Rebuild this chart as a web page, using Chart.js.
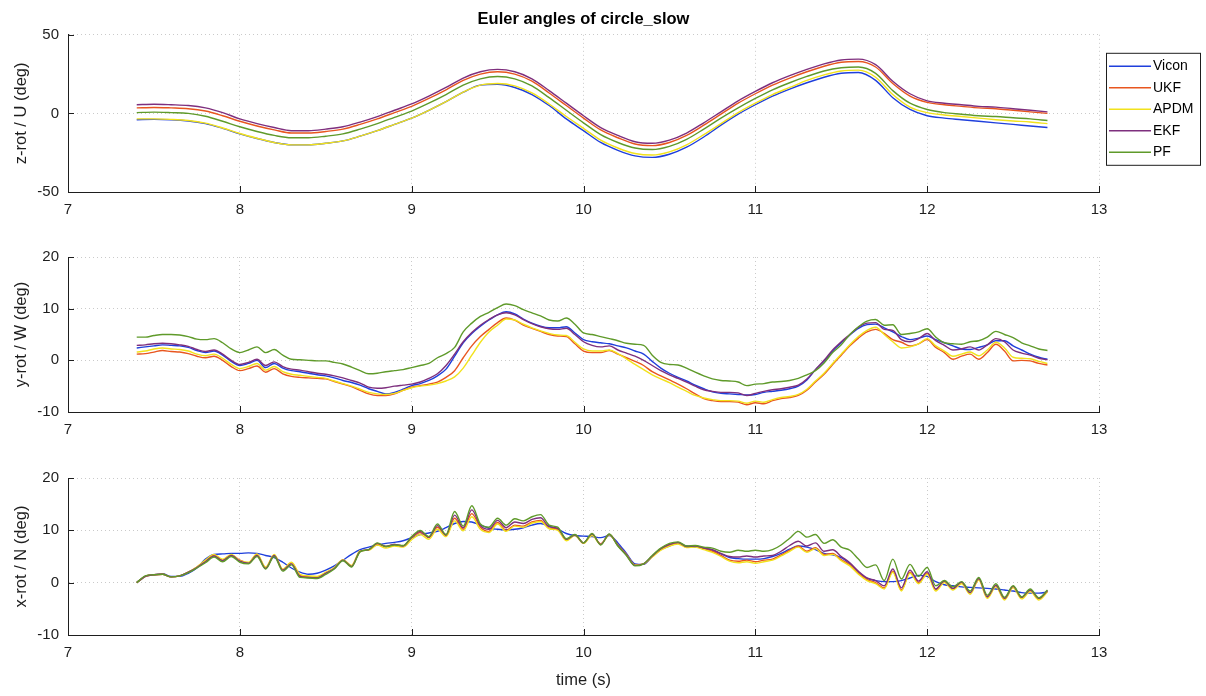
<!DOCTYPE html>
<html>
<head>
<meta charset="utf-8">
<title>Euler angles of circle_slow</title>
<script src="https://cdn.jsdelivr.net/npm/chart.js@4.4.1/dist/chart.umd.min.js"></script>
<style>
  html, body { margin: 0; padding: 0; background: #fff; }
  #wrap { position: relative; width: 1206px; height: 696px; background: #fff; }
  canvas { position: absolute; left: 0; }
</style>
</head>
<body>
<div id="wrap">
  <canvas id="zChart" width="1206" height="232" style="top:0"></canvas>
  <canvas id="yChart" width="1206" height="222" style="top:232px"></canvas>
  <canvas id="xChart" width="1206" height="242" style="top:454px"></canvas>
</div>
<script>
// series names and colours (Vicon reference + the four filters)
const names = ["Vicon", "UKF", "APDM", "EKF", "PF"];
const colors = ["#1f3fdc", "#e8561f", "#f2e21c", "#7e2f7e", "#5f9a2a"];

const timeTicks = [7, 8, 9, 10, 11, 12, 13];
const zTicks = [-50, 0, 50];
const yTicks = [-10, 0, 10, 20];
const xTicks = [-10, 0, 10, 20];

// z-rot sampled every 0.1 s
const tz = [7.4, 7.5, 7.6, 7.7, 7.8, 7.9, 8.0, 8.1, 8.2, 8.3,
  8.4, 8.5, 8.6, 8.7, 8.8, 8.9, 9.0, 9.1, 9.2, 9.3,
  9.4, 9.5, 9.6, 9.7, 9.8, 9.9, 10.0, 10.1, 10.2, 10.3,
  10.4, 10.5, 10.6, 10.7, 10.8, 10.9, 11.0, 11.1, 11.2, 11.3,
  11.4, 11.5, 11.6, 11.7, 11.8, 11.9, 12.0, 12.1, 12.2, 12.3,
  12.4, 12.5, 12.6, 12.7];

const zVicon = [-4, -3.8, -4, -4.8, -6.5, -9.5, -13, -16, -18.5, -20,
  -20, -19, -17.5, -14.5, -11, -7, -3, 2, 7.5, 13.5,
  18, 18.5, 16.5, 12, 5, -3.5, -11, -18.5, -23.5, -27,
  -28, -26, -21.5, -15, -7.5, -0.5, 5.5, 11, 15.5, 19.5,
  23, 25.5, 26, 21, 10, 2.5, -1.5, -3, -4, -5,
  -6, -7, -8, -9];
const zUKF = [3.5, 3.8, 3.5, 3, 1.5, -1.5, -5, -8, -10.5, -12.5,
  -12.5, -11.5, -10, -7, -3.5, 0.5, 4.5, 9.5, 15, 21,
  25, 26.5, 25, 20.5, 13, 5, -3, -10.5, -15.5, -19.5,
  -20.5, -18.5, -14, -7.5, -0.5, 6.5, 12.5, 18, 22.5, 26.5,
  30, 32.5, 33, 29.5, 19, 11, 7, 5.5, 4.5, 3.5,
  3, 2, 1, 0];
const zAPDM = [-3.5, -3.5, -3.8, -4.5, -6.2, -9.3, -12.8, -15.8, -18.5, -20,
  -20, -19, -17.5, -14.5, -11, -7, -3, 2, 7.5, 13.5,
  18, 19, 17.5, 13, 6, -2, -9.5, -17, -22, -25.5,
  -26.5, -24.5, -20, -13.5, -6.5, 0.5, 6.5, 12, 16.5, 21,
  24.5, 27, 27.5, 23, 12, 4, 0.5, -1, -2, -3,
  -4, -4.8, -5.5, -6.5];
const zEKF = [5.5, 5.8, 5.5, 5, 3.5, 0.5, -3.5, -6.5, -9, -11,
  -11, -10, -8.5, -5.5, -2, 2, 6, 11, 16.5, 22.5,
  26.5, 28, 26.5, 22, 14.5, 6.5, -1.5, -9, -14, -18,
  -19, -17, -12.5, -6, 1, 8, 14, 19.5, 24, 28,
  31.5, 34, 34.5, 31, 20.5, 12.5, 8, 6.5, 5.5, 4.5,
  4, 3, 2, 1];
const zPF = [0.5, 0.8, 0.5, 0, -1.8, -5, -8.5, -11.5, -14, -15.5,
  -15.5, -14.5, -13, -10, -6.5, -2.5, 1.5, 6.5, 12, 18,
  22, 23.5, 22, 17.5, 10, 2, -6, -13.5, -18.5, -22,
  -23, -21, -16.5, -10, -3, 3.5, 9.5, 15, 19.5, 23.5,
  27, 29, 29.5, 25.5, 14.5, 6.5, 2.5, 0.5, -0.5, -1.5,
  -2, -2.8, -3.5, -4.5];

// y-rot and x-rot sampled every 0.05 s
const t2 = [7.40, 7.45, 7.50, 7.55, 7.60, 7.65, 7.70, 7.75, 7.80, 7.85,
  7.90, 7.95, 8.00, 8.05, 8.10, 8.15, 8.20, 8.25, 8.30, 8.35,
  8.40, 8.45, 8.50, 8.55, 8.60, 8.65, 8.70, 8.75, 8.80, 8.85,
  8.90, 8.95, 9.00, 9.05, 9.10, 9.15, 9.20, 9.25, 9.30, 9.35,
  9.40, 9.45, 9.50, 9.55, 9.60, 9.65, 9.70, 9.75, 9.80, 9.85,
  9.90, 9.95, 10.00, 10.05, 10.10, 10.15, 10.20, 10.25, 10.30, 10.35,
  10.40, 10.45, 10.50, 10.55, 10.60, 10.65, 10.70, 10.75, 10.80, 10.85,
  10.90, 10.95, 11.00, 11.05, 11.10, 11.15, 11.20, 11.25, 11.30, 11.35,
  11.40, 11.45, 11.50, 11.55, 11.60, 11.65, 11.70, 11.75, 11.80, 11.85,
  11.90, 11.95, 12.00, 12.05, 12.10, 12.15, 12.20, 12.25, 12.30, 12.35,
  12.40, 12.45, 12.50, 12.55, 12.60, 12.65, 12.70];

const yVicon = [2.4, 2.6, 2.8, 3.0, 2.9, 2.8, 2.5, 1.9, 1.5, 1.8,
  1.0, -0.2, -1.0, -0.6, 0.0, -1.4, -0.6, -1.5, -2.0, -2.2,
  -2.5, -2.8, -3.0, -3.4, -3.9, -4.3, -4.8, -5.5, -6.0, -6.5,
  -6.2, -5.6, -4.9, -4.5, -3.9, -3.0, -1.7, 0.8, 3.4, 5.2,
  6.6, 7.8, 8.8, 9.4, 9.0, 8.0, 7.2, 6.6, 6.3, 6.3,
  6.5, 5.3, 4.0, 3.6, 3.4, 3.2, 2.8, 2.4, 1.8, 1.2,
  -0.2, -1.5, -2.5, -3.3, -4.0, -4.8, -5.5, -6.1, -6.4, -6.5,
  -6.6, -6.7, -6.6, -6.2, -6.0, -5.8, -5.5, -5.0, -3.8, -1.8,
  -0.2, 1.8, 3.4, 4.9, 6.2, 6.9, 7.0, 6.3, 5.5, 4.6,
  4.0, 4.3, 4.7, 4.0, 3.4, 2.8, 2.2, 2.1, 2.5, 3.0,
  3.8, 3.8, 2.8, 2.0, 1.2, 0.6, 0.2];
const yUKF = [1.2, 1.3, 1.6, 1.9, 1.7, 1.6, 1.3, 0.8, 0.5, 0.8,
  0.0, -1.2, -2.0, -1.6, -1.1, -2.3, -1.6, -2.6, -3.1, -3.3,
  -3.4, -3.5, -3.6, -4.1, -4.6, -5.1, -5.8, -6.5, -6.8, -6.8,
  -6.5, -5.8, -5.2, -4.9, -4.6, -4.2, -3.3, -2.0, 0.5, 2.8,
  4.6, 6.0, 7.3, 8.2, 7.8, 6.8, 6.2, 5.6, 5.0, 4.7,
  4.6, 3.2, 1.8, 1.5, 1.5, 1.9, 1.2, 0.5, -0.2, -1.0,
  -2.2, -3.0, -3.8, -4.6, -5.5, -6.5, -7.4, -7.8, -8.0, -8.0,
  -8.1, -8.6, -8.2, -8.4, -7.8, -7.4, -7.2, -6.8, -5.8, -4.2,
  -2.7, -0.8, 1.0, 2.8, 4.3, 5.5, 6.0, 5.2, 4.0, 3.5,
  2.8, 3.2, 4.0, 2.5, 1.5, 0.2, 0.8, 1.2, 0.2, 1.5,
  3.1, 1.8, -0.1, 0.0, -0.1, -0.6, -0.9];
const yAPDM = [1.6, 1.8, 2.2, 2.4, 2.2, 2.1, 1.8, 1.2, 0.9, 1.2,
  0.4, -0.8, -1.6, -1.2, -0.6, -1.9, -1.2, -2.2, -2.7, -2.9,
  -3.1, -3.3, -3.5, -4.0, -4.5, -5.0, -5.6, -6.2, -6.5, -6.6,
  -6.4, -5.8, -5.3, -5.0, -4.8, -4.5, -4.0, -3.2, -1.5, 1.0,
  3.5, 5.5, 6.8, 8.0, 7.8, 7.0, 6.3, 5.7, 5.2, 4.9,
  4.8, 3.5, 2.2, 1.8, 1.8, 2.0, 1.3, 0.3, -0.8, -1.8,
  -2.8, -3.6, -4.3, -5.2, -6.0, -6.8, -7.3, -7.6, -7.8, -7.8,
  -7.9, -8.3, -7.9, -8.1, -7.6, -7.2, -7.0, -6.6, -5.6, -4.0,
  -2.5, -0.6, 1.2, 3.0, 4.6, 5.8, 6.4, 5.0, 3.6, 2.4,
  2.6, 3.2, 4.2, 2.8, 1.8, 0.8, 1.2, 1.6, 0.9, 2.0,
  3.5, 2.4, 0.6, 0.4, 0.3, -0.2, -0.6];
const yEKF = [2.9, 3.0, 3.2, 3.3, 3.2, 3.0, 2.7, 2.1, 1.7, 2.0,
  1.2, 0.0, -0.8, -0.4, 0.2, -1.0, -0.3, -1.2, -1.7, -1.9,
  -2.2, -2.5, -2.7, -3.0, -3.4, -3.9, -4.4, -5.2, -5.4, -5.3,
  -5.0, -4.8, -4.6, -4.2, -3.5, -2.6, -1.0, 1.2, 3.6, 5.4,
  6.8, 7.9, 8.8, 9.2, 8.8, 7.9, 7.1, 6.5, 6.1, 6.0,
  6.2, 5.0, 3.6, 2.9, 2.6, 2.8, 2.0, 1.4, 0.8, 0.0,
  -1.0, -2.0, -2.8, -3.5, -4.2, -5.0, -5.7, -6.0, -6.2, -6.2,
  -6.3, -6.8, -6.4, -6.0, -5.7, -5.5, -5.2, -4.8, -3.6, -1.8,
  0.0, 2.0, 3.6, 5.0, 6.4, 7.2, 7.3, 6.0, 5.8, 4.0,
  3.6, 4.2, 5.2, 3.8, 2.9, 2.0, 2.2, 2.6, 2.0, 3.0,
  4.2, 3.6, 2.0, 1.4, 1.0, 0.4, 0.1];
const yPF = [4.5, 4.5, 4.8, 5.0, 5.0, 4.9, 4.6, 4.1, 4.0, 4.2,
  3.4, 2.2, 1.5, 2.0, 2.6, 1.5, 2.1, 1.0, 0.2, 0.1,
  0.0, -0.1, -0.1, -0.4, -0.7, -1.3, -2.0, -2.6, -2.5, -2.2,
  -2.0, -1.8, -1.4, -1.0, -0.6, 0.5, 1.3, 2.5, 5.5, 7.2,
  8.5, 9.3, 10.2, 10.9, 10.6, 9.8, 9.2, 8.6, 7.8, 7.6,
  8.2, 7.0, 5.3, 5.0, 4.6, 4.2, 3.8, 3.3, 3.1, 2.9,
  1.0, -0.4, -0.8, -0.9, -1.5, -2.3, -3.0, -3.6, -3.9, -4.0,
  -4.2, -4.9, -4.6, -4.5, -4.2, -4.1, -3.9, -3.5, -2.8, -2.0,
  -0.5, 1.5, 3.0, 5.0, 6.5, 7.6, 7.9, 6.8, 6.9, 5.0,
  5.2, 5.5, 6.1, 4.5, 3.4, 3.2, 3.1, 3.6, 3.8, 4.5,
  5.6, 5.0, 4.4, 3.4, 2.8, 2.2, 1.9];

const xVicon = [0.0, 1.2, 1.5, 1.7, 1.2, 1.2, 1.8, 2.8, 4.5, 5.4,
  5.5, 5.6, 5.6, 5.7, 5.6, 5.2, 4.8, 3.9, 2.8, 2.0,
  1.6, 1.8, 2.4, 3.2, 4.3, 5.4, 6.3, 6.8, 7.2, 7.5,
  7.7, 8.0, 8.6, 9.2, 9.5, 9.8, 10.5, 11.3, 11.7, 11.6,
  11.0, 10.4, 10.2, 10.1, 10.2, 10.5, 11.0, 11.3, 10.8, 10.2,
  9.4, 9.0, 8.9, 8.8, 8.6, 9.0, 7.6, 5.6, 3.6, 3.5,
  5.0, 6.3, 7.0, 7.5, 7.0, 6.8, 6.7, 6.2, 5.5, 4.8,
  4.6, 4.5, 4.5, 4.6, 5.0, 5.6, 6.4, 7.0, 6.8, 6.3,
  5.6, 5.3, 4.8, 3.6, 2.0, 0.8, 0.4, 0.2, 0.2, 0.4,
  0.9, 1.4, 1.2, 0.2, -0.4, -0.6, -0.8, -0.9, -1.0, -1.1,
  -1.2, -1.4, -1.6, -1.9, -2.0, -2.0, -1.8];
const xUKF = [0.0, 1.2, 1.5, 1.6, 1.1, 1.3, 2.0, 3.0, 4.2, 5.3,
  4.3, 5.3, 4.3, 3.8, 5.4, 2.8, 5.3, 2.5, 3.8, 1.4,
  1.1, 1.0, 1.9, 2.8, 4.3, 3.2, 6.0, 6.3, 7.4, 6.9,
  7.3, 7.0, 8.6, 9.6, 8.6, 10.6, 9.0, 12.3, 10.2, 13.2,
  10.6, 9.8, 11.5, 10.0, 11.0, 10.8, 11.6, 11.9, 10.4, 10.2,
  8.2, 9.1, 7.6, 9.2, 7.4, 9.2, 7.2, 5.4, 3.4, 3.6,
  5.0, 6.4, 7.2, 7.6, 6.8, 7.0, 6.5, 6.0, 5.2, 4.3,
  4.1, 4.3, 4.0, 4.3, 4.5, 5.3, 6.2, 7.0, 6.0, 6.7,
  5.4, 5.6, 4.4, 3.4, 1.8, 0.6, 0.0, -1.0, 2.2, -1.4,
  2.0, 0.0, 1.8, -1.4, 0.2, -1.2, 0.0, -2.0, 0.7, -2.8,
  -0.6, -3.1, -0.8, -2.9, -1.5, -3.1, -1.6];
const xAPDM = [0.0, 1.2, 1.5, 1.6, 1.1, 1.3, 2.0, 3.0, 4.3, 5.4,
  4.5, 5.4, 4.2, 3.9, 5.5, 3.0, 5.4, 2.6, 3.9, 1.6,
  1.3, 1.2, 2.0, 2.9, 4.4, 3.3, 6.1, 6.2, 7.2, 6.6,
  7.0, 6.8, 8.2, 9.2, 8.3, 10.2, 8.8, 11.8, 9.9, 12.6,
  10.2, 9.6, 11.2, 9.8, 10.8, 10.6, 11.4, 11.7, 10.3, 10.0,
  8.0, 9.0, 7.5, 9.0, 7.3, 9.1, 7.1, 5.3, 3.4, 3.6,
  4.9, 6.2, 7.0, 7.4, 6.7, 6.8, 6.3, 5.8, 5.0, 4.1,
  3.8, 4.0, 3.7, 4.0, 4.3, 5.1, 6.0, 6.8, 5.8, 6.5,
  5.2, 5.4, 4.2, 3.2, 1.6, 0.4, -0.2, -1.2, 2.0, -1.6,
  1.8, -0.2, 1.6, -1.6, 0.0, -1.4, -0.2, -2.2, 0.5, -3.0,
  -0.8, -3.3, -1.0, -3.1, -1.7, -3.3, -1.8];
const xEKF = [0.0, 1.2, 1.5, 1.6, 1.1, 1.3, 2.0, 2.9, 4.0, 5.1,
  4.2, 5.2, 4.1, 3.7, 5.2, 2.7, 5.2, 2.4, 3.6, 1.2,
  1.0, 0.9, 1.8, 2.7, 4.3, 3.1, 6.0, 6.3, 7.5, 6.9,
  7.3, 7.0, 8.7, 9.8, 8.7, 10.9, 9.1, 12.9, 10.5, 13.9,
  10.9, 10.2, 11.9, 10.5, 11.6, 11.3, 12.1, 12.4, 10.7, 10.4,
  8.3, 9.1, 7.6, 9.3, 7.3, 9.2, 7.1, 5.3, 3.3, 3.6,
  5.1, 6.5, 7.3, 7.7, 6.9, 7.0, 6.6, 6.3, 5.6, 5.0,
  4.9, 5.1, 4.9, 5.1, 5.2, 6.0, 7.1, 7.9, 7.0, 7.6,
  6.0, 6.3, 5.0, 3.8, 2.2, 0.9, 0.4, -0.6, 2.6, -1.0,
  2.4, 0.3, 2.1, -1.2, 0.3, -1.1, 0.1, -1.9, 0.8, -2.7,
  -0.5, -3.0, -0.7, -2.8, -1.4, -3.0, -1.5];
const xPF = [0.0, 1.3, 1.5, 1.6, 1.1, 1.3, 1.9, 2.8, 3.8, 4.9,
  4.0, 5.0, 3.9, 3.6, 5.0, 2.6, 5.0, 2.2, 3.4, 1.0,
  0.9, 0.8, 1.6, 2.6, 4.2, 3.0, 5.9, 6.3, 7.6, 6.9,
  7.2, 7.1, 8.8, 10.0, 8.8, 11.2, 9.2, 13.6, 10.8, 14.7,
  11.2, 10.6, 12.3, 11.0, 12.2, 11.8, 12.6, 13.0, 11.0, 10.6,
  8.4, 9.2, 7.6, 9.4, 7.2, 9.3, 7.0, 5.2, 3.2, 3.6,
  5.2, 6.6, 7.5, 7.8, 7.0, 7.1, 6.8, 6.6, 6.0, 5.8,
  6.2, 6.0, 6.2, 6.0, 6.3, 7.2, 8.5, 9.8, 8.7, 9.2,
  7.5, 8.2, 6.8, 6.2, 4.5, 2.9, 3.4, 0.4, 4.5, 0.7,
  3.5, 1.2, 2.9, -0.6, 0.4, -0.8, 0.2, -1.6, 1.0, -2.4,
  -0.2, -2.8, -0.6, -2.7, -1.2, -2.9, -1.4];

const ink = "#1e1e1e";
const gridColor = "#cacaca";
Chart.defaults.font.family = '"Liberation Sans", Arial, Helvetica, sans-serif';
Chart.defaults.color = ink;

// MATLAB-style ticks pointing into the plot area
const inwardTicks = {
  id: "inwardTicks",
  afterDraw(chart) {
    const {ctx, chartArea, scales} = chart;
    ctx.save();
    ctx.strokeStyle = ink;
    ctx.lineWidth = 1;
    ctx.beginPath();
    scales.x.ticks.forEach(t => {
      const px = Math.round(scales.x.getPixelForValue(t.value)) + 0.5;
      ctx.moveTo(px, chartArea.bottom);
      ctx.lineTo(px, chartArea.bottom - 6);
    });
    scales.y.ticks.forEach(t => {
      const py = Math.round(scales.y.getPixelForValue(t.value)) + 0.5;
      ctx.moveTo(chartArea.left, py);
      ctx.lineTo(chartArea.left + 6, py);
    });
    ctx.stroke();
    ctx.restore();
  }
};

// boxed legend to the right of the top panel
const legendBox = {
  id: "legendBox",
  afterDraw(chart) {
    const {ctx, chartArea} = chart;
    const x = chartArea.right + 7, y = chartArea.top + 18, w = 94, h = 112;
    ctx.save();
    ctx.fillStyle = "#fff";
    ctx.fillRect(x, y, w, h);
    ctx.strokeStyle = ink;
    ctx.lineWidth = 1;
    ctx.strokeRect(x + 0.5, y + 0.5, w, h);
    ctx.font = '14px "Liberation Sans", Arial, sans-serif';
    ctx.textBaseline = "middle";
    chart.data.datasets.forEach((ds, i) => {
      const cy = y + 13.5 + i * 21.5;
      ctx.strokeStyle = ds.borderColor;
      ctx.lineWidth = 1.6;
      ctx.beginPath();
      ctx.moveTo(x + 3, cy);
      ctx.lineTo(x + 45, cy);
      ctx.stroke();
      ctx.fillStyle = "#000";
      ctx.fillText(ds.label, x + 47, cy);
    });
    ctx.restore();
  }
};

function makeDatasets(times, valueSets) {
  return names.map((name, i) => ({
    label: name,
    data: times.map((t, k) => ({x: t, y: valueSets[i][k]})),
    borderColor: colors[i],
    backgroundColor: colors[i],
    borderWidth: 1.4,
    pointRadius: 0,
    cubicInterpolationMode: "monotone",
    order: names.length - i
  }));
}

function makePanel(id, times, valueSets, ticks, yLabel, cfg) {
  const xScale = {
    type: "linear",
    min: timeTicks[0],
    max: timeTicks[timeTicks.length - 1],
    afterBuildTicks: s => { s.ticks = timeTicks.map(v => ({value: v})); },
    afterFit: s => { s.height = cfg.xHeight; },
    ticks: {color: ink, font: {size: 15}, padding: 9, maxRotation: 0, autoSkip: false},
    grid: {color: gridColor, drawTicks: false},
    border: {display: true, color: ink, width: 1, dash: [1, 3]}
  };
  if (cfg.xTitle) {
    xScale.title = {display: true, text: cfg.xTitle, color: ink, font: {size: 16.5}, padding: {top: 0, bottom: 6}};
  }
  return new Chart(document.getElementById(id), {
    type: "line",
    data: {datasets: makeDatasets(times, valueSets)},
    options: {
      responsive: false,
      animation: false,
      devicePixelRatio: 1,
      layout: {padding: {left: 0, right: 107, top: cfg.top, bottom: 0}},
      scales: {
        x: xScale,
        y: {
          min: ticks[0],
          max: ticks[ticks.length - 1],
          afterBuildTicks: s => { s.ticks = ticks.map(v => ({value: v})); },
          afterFit: s => { s.width = 68; },
          ticks: {color: ink, font: {size: 15}, padding: 9},
          grid: {color: gridColor, drawTicks: false},
          border: {display: true, color: ink, width: 1, dash: [1, 3]},
          title: {display: true, text: yLabel, color: ink, font: {size: 16.5}, padding: {top: 12, bottom: 0}}
        }
      },
      plugins: {
        legend: {display: false},
        tooltip: {enabled: false},
        title: cfg.title ? {
          display: true, text: cfg.title, fullSize: false, color: "#000",
          font: {size: 16.5, weight: "bold"}, padding: {top: 10, bottom: 5}
        } : {display: false}
      }
    },
    plugins: cfg.legend ? [inwardTicks, legendBox] : [inwardTicks]
  });
}

makePanel("zChart", tz, [zVicon, zUKF, zAPDM, zEKF, zPF], zTicks, "z-rot / U (deg)",
  {top: 0, xHeight: 40, title: "Euler angles of circle_slow", legend: true});
makePanel("yChart", t2, [yVicon, yUKF, yAPDM, yEKF, yPF], yTicks, "y-rot / W (deg)",
  {top: 25, xHeight: 42});
makePanel("xChart", t2, [xVicon, xUKF, xAPDM, xEKF, xPF], xTicks, "x-rot / N (deg)",
  {top: 24, xHeight: 61, xTitle: "time (s)"});
</script>
</body>
</html>
